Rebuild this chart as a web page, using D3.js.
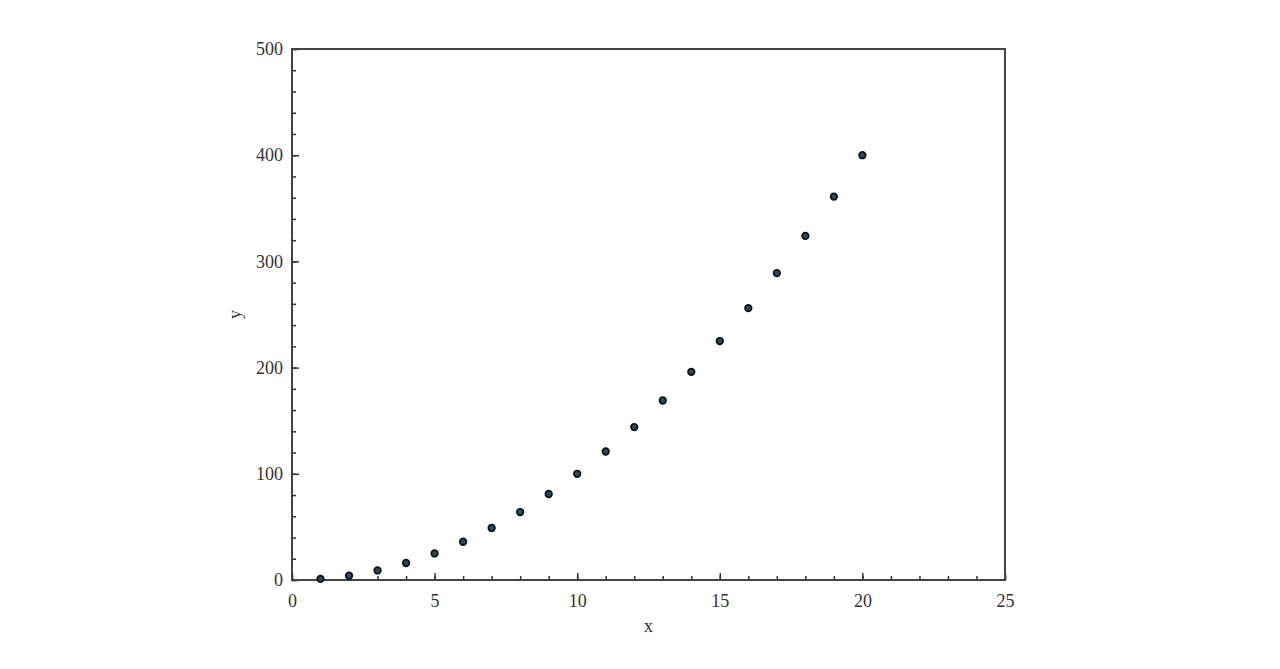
<!DOCTYPE html>
<html>
<head>
<meta charset="utf-8">
<script src="https://cdn.jsdelivr.net/npm/d3@7"></script>
<style>
  body { margin: 0; background: #fff; }
  svg text { font-family: "Liberation Serif", "DejaVu Serif", serif; fill: #333; }
</style>
</head>
<body>
<div id="chart"></div>
<script>
// values
var xVals = [1, 2, 3, 4, 5, 6, 7, 8, 9, 10, 11, 12, 13, 14, 15, 16, 17, 18, 19, 20];
var yVals = [1, 4, 9, 16, 25, 36, 49, 64, 81, 100, 121, 144, 169, 196, 225, 256, 289, 324, 361, 400];
var xTicks = [0, 5, 10, 15, 20, 25];
var yTicks = [0, 100, 200, 300, 400, 500];

var width = 1280, height = 669;
var plotLeft = 292, plotRight = 1005, plotTop = 49, plotBottom = 580;

var svg = d3.select('#chart').append('svg')
    .attr('width', width)
    .attr('height', height);

var x = d3.scaleLinear().domain([0, 25]).range([plotLeft, plotRight]);
var y = d3.scaleLinear().domain([0, 500]).range([plotBottom, plotTop]);

// minor ticks (inward)
var xAxisMinor = d3.axisBottom(x).tickValues(d3.range(0, 26, 1)).tickSize(-4).tickFormat('');
var yAxisMinor = d3.axisLeft(y).tickValues(d3.range(0, 501, 20)).tickSize(-4).tickFormat('');
svg.append('g').attr('transform', 'translate(0,' + plotBottom + ')').call(xAxisMinor);
svg.append('g').attr('transform', 'translate(' + plotLeft + ',0)').call(yAxisMinor);

// major ticks with labels
var xAxis = d3.axisBottom(x).tickValues(xTicks).tickSize(-7).tickPadding(14).tickFormat(d3.format('d'));
var yAxis = d3.axisLeft(y).tickValues(yTicks).tickSize(-7).tickPadding(9).tickFormat(d3.format('d'));
var gx = svg.append('g').attr('transform', 'translate(0,' + plotBottom + ')').call(xAxis);
var gy = svg.append('g').attr('transform', 'translate(' + plotLeft + ',0)').call(yAxis);

svg.selectAll('.domain').remove();
svg.selectAll('.tick line').attr('stroke', '#333').attr('stroke-width', 1.5);
[gx, gy].forEach(function(g) {
    g.selectAll('text')
        .style('font-family', '"Liberation Serif", serif')
        .style('font-size', '18px')
        .attr('fill', '#333');
});

// frame
svg.append('rect')
    .attr('x', plotLeft)
    .attr('y', plotTop)
    .attr('width', plotRight - plotLeft)
    .attr('height', plotBottom - plotTop)
    .attr('fill', 'none')
    .attr('stroke', '#444')
    .attr('stroke-width', 2);

// axis titles
svg.append('text')
    .attr('x', (plotLeft + plotRight) / 2)
    .attr('y', 632)
    .attr('text-anchor', 'middle')
    .style('font-size', '18px')
    .text('x');
svg.append('text')
    .attr('transform', 'translate(241,' + ((plotTop + plotBottom) / 2) + ') rotate(-90)')
    .attr('text-anchor', 'middle')
    .style('font-size', '18px')
    .text('y');

// points
svg.append('g').selectAll('circle')
    .data(xVals)
    .enter().append('circle')
    .attr('cx', function(d) { return x(d); })
    .attr('cy', function(d, i) { return y(yVals[i]); })
    .attr('r', 3.3)
    .attr('fill', '#2b4a58')
    .attr('stroke', '#111')
    .attr('stroke-width', 1.7);
</script>
</body>
</html>
